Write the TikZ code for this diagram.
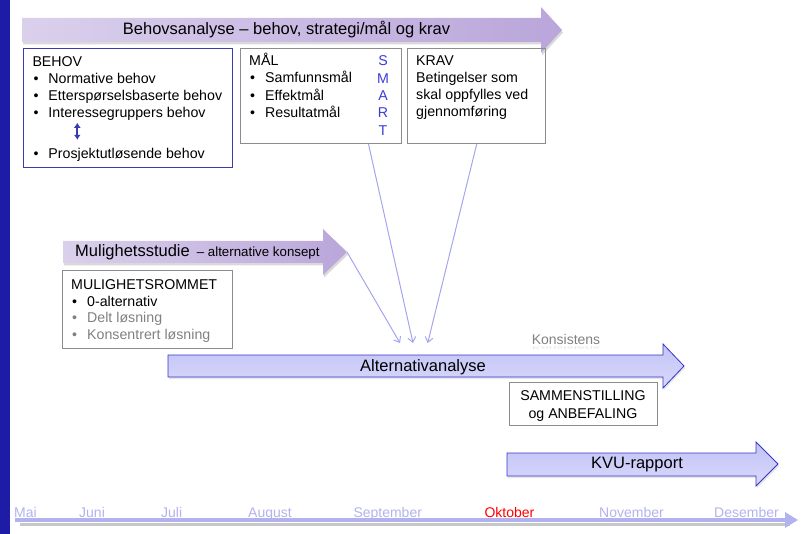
\documentclass[tikz,border=0pt]{standalone}
\usepackage{fontspec}
\setmainfont{Liberation Sans}
\usepackage{tikz}
\usetikzlibrary{arrows.meta}
\usetikzlibrary{shadows}

\definecolor{barblue}{HTML}{1C1CA6}
\definecolor{behovblue}{HTML}{3A3AB4}
\definecolor{boxgray}{HTML}{8C8C8C}
\definecolor{smartblue}{HTML}{3B3BD6}
\definecolor{lilaleft}{HTML}{DAD0EC}
\definecolor{lilaright}{HTML}{BAA6DA}
\definecolor{blaatop}{HTML}{C3C3F6}
\definecolor{blaabottom}{HTML}{D8D8FC}
\definecolor{blaaedge}{HTML}{3535C8}
\definecolor{flowblue}{HTML}{A5A5EE}
\definecolor{monthblue}{HTML}{B2B2EE}
\definecolor{mutedgray}{HTML}{808080}

\newcommand{\itm}{\makebox[16pt][l]{\hspace{1pt}\textbullet}}

\tikzset{
  box/.style={draw=boxgray, line width=0.8pt, inner sep=0pt, anchor=north west},
  txt/.style={inner sep=0pt, anchor=north west, align=left, font=\fontsize{14.2}{17.1}\selectfont},
  purplearrow/.style={left color=lilaleft, right color=lilaright,
    drop shadow={shadow xshift=1pt, shadow yshift=-2.5pt, opacity=0.3}},
  bluearrow/.style={top color=blaatop, bottom color=blaabottom, draw=blaaedge, line width=0.8pt,
    drop shadow={shadow xshift=1pt, shadow yshift=-2pt, opacity=0.2}},
  arrowtext/.style={inner sep=0pt, anchor=base, font=\fontsize{16.5}{19}\selectfont},
  flow/.style={draw=flowblue, line width=1pt, -{Straight Barb[length=5pt,width=8pt]}},
  month/.style={inner sep=0pt, anchor=base west, text=monthblue, font=\fontsize{14}{17}\selectfont},
}

\begin{document}
\begin{tikzpicture}[x=1pt, y=-1pt]
  \useasboundingbox (0,0) rectangle (805,534);
  \fill[barblue] (0,0) rectangle (10,534);

  % store piler
  \path[purplearrow] (22,18) -- (541,18) -- (541,7) -- (562,30) -- (541,53) -- (541,42) -- (22,42) -- cycle;
  \node[arrowtext] (behovsanalyse) at (286.5,35) {Behovsanalyse -- behov, strategi/mål og krav};

  \path[purplearrow] (63,241) -- (323,241) -- (323,229) -- (347,252) -- (323,275) -- (323,263) -- (63,263) -- cycle;
  \coordinate (mulighettip) at (347,252);
  \node[arrowtext, anchor=base west] (mulighet) at (75,256.7) {Mulighetsstudie\hspace{7pt}{\fontsize{13.3}{15}\selectfont -- alternative konsept}};

  \path[bluearrow] (168,355) -- (663,355) -- (663,344) -- (684,366) -- (663,388) -- (663,377) -- (168,377) -- cycle;
  \node[arrowtext] (alternativ) at (423,371.7) {Alternativanalyse};

  \path[bluearrow] (507,453) -- (756,453) -- (756,442) -- (778,464) -- (756,486) -- (756,476) -- (507,476) -- cycle;
  \node[arrowtext] (kvu) at (637,468) {KVU-rapport};

  % bokser
  \node[box, draw=behovblue, minimum width=209pt, minimum height=118.4pt] (behov) at (23.3,48.3) {};
  \node[txt] (behovtxt) at (32.3,54) {\strut BEHOV\\
    \itm Normative behov\\
    \itm Etterspørselsbaserte behov\\
    \itm Interessegruppers behov\\[24.3pt]
    \itm Prosjektutløsende behov};
  \draw[behovblue, line width=2.2pt, {Latex[length=5pt,width=7pt]}-{Latex[length=5pt,width=7pt]}] (77.3,122.8) -- (77.3,139.8);

  \node[box, minimum width=160.7pt, minimum height=95pt] (maal) at (240,48.3) {};
  \node[txt] (maaltxt) at (249,53.3) {\strut MÅL\\
    \itm Samfunnsmål\\
    \itm Effektmål\\
    \itm Resultatmål};
  \node[txt, anchor=north, align=center, text=smartblue, font=\fontsize{14.2}{17.4}\selectfont] (smart) at (383,53.3) {\strut S\\M\\A\\R\\T};

  \node[box, minimum width=137.7pt, minimum height=95pt] (krav) at (407.3,48.3) {};
  \node[txt] (kravtxt) at (416,53.3) {\strut KRAV\\
    Betingelser som\\
    skal oppfylles ved\\
    gjennomføring};

  \node[box, minimum width=170pt, minimum height=78pt] (rommet) at (62,270) {};
  \node[txt, font=\fontsize{14.2}{16.7}\selectfont] (rommettxt) at (71,277.6) {\strut MULIGHETSROMMET\\
    \itm 0-alternativ\\
    {\color{mutedgray}\itm Delt løsning}\\
    {\color{mutedgray}\itm Konsentrert løsning}};

  \node[box, minimum width=148pt, minimum height=43pt] (sammen) at (509,382) {};
  \node[txt, anchor=north, align=center, font=\fontsize{14.2}{17.6}\selectfont] (sammentxt) at (583,388.4) {\strut SAMMENSTILLING\\og ANBEFALING};

  \node[inner sep=0pt, anchor=base, text=mutedgray, font=\fontsize{14}{17}\selectfont] (konsistens) at (566,344.3) {Konsistens};
  \node[inner sep=0pt, anchor=north, text=mutedgray, text opacity=0.2, font=\fontsize{14}{17}\selectfont] (konsistensrefl) at (566,346.5) {\scalebox{1}[-0.35]{Konsistens}};

  % piler inn mot alternativanalysen
  \coordinate (k1) at (400,343);
  \coordinate (k2) at (413,343);
  \coordinate (k3) at (427.7,343);
  \draw[flow] (mulighettip) -- (k1);
  \draw[flow] ([xshift=-33pt]maal.south east) -- (k2);
  \draw[flow] ([xshift=69.4pt]krav.south west) -- (k3);

  % tidslinje
  \coordinate (tstart) at (15,520);
  \coordinate (tslutt) at (798,520);
  \draw[black!22, line width=2.5pt] (20,524.5) -- (790,524.5);
  \draw[monthblue, line width=3.5pt, -{Triangle[length=13pt,width=15pt]}] (tstart) -- (tslutt);

  \node[month] (mai) at (14,517.7) {Mai};
  \node[month] (juni) at (79,517.7) {Juni};
  \node[month] (juli) at (161,517.7) {Juli};
  \node[month] (august) at (248,517.7) {August};
  \node[month] (september) at (353.3,517.7) {September};
  \node[month, text=red] (oktober) at (484.3,517.7) {Oktober};
  \node[month] (november) at (599,517.7) {November};
  \node[month] (desember) at (714,517.7) {Desember};
\end{tikzpicture}
\end{document}
